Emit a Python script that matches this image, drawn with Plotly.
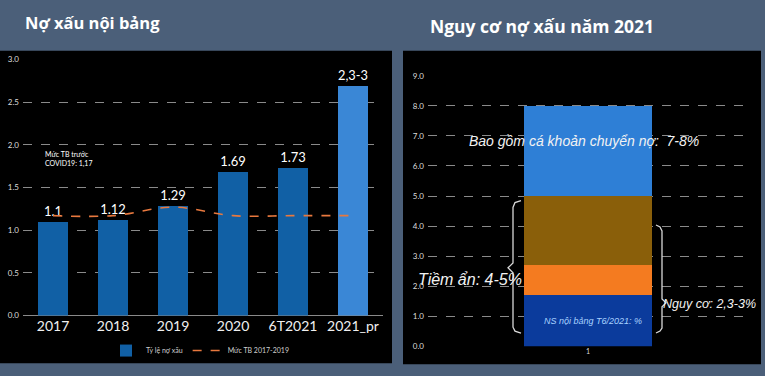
import plotly.graph_objects as go

W, H = 765, 376

# ---------- data ----------
years = ["2017", "2018", "2019", "2020", "6T2021", "2021_pr"]
npl_ratio = [1.1, 1.12, 1.29, 1.69, 1.73, 2.7]
npl_labels = ["1.1", "1.12", "1.29", "1.69", "1.73", "2,3-3"]
avg_line = [1.17, 1.17, 1.27, 1.17, 1.17, 1.17]

risk_cat = ["1"]
seg_names = ["NS nội bảng T6/2021", "Nguy cơ", "Tiềm ẩn", "Chuyển nợ"]
seg_values = [1.73, 0.97, 2.3, 3.0]

def X(px):
    return px / W

def Y(py):
    return 1 - py / H

BG = "#4b5f79"
DARK_BAR = "#1160a5"
LIGHT_BAR = "#3a87d6"
seg_colors = ["#0b3b9c", "#f47b20", "#8a5f0a", "#2e7fd6"]

fig = go.Figure()

bar_colors = [DARK_BAR] * 5 + [LIGHT_BAR]
fig.add_trace(go.Bar(
    x=years, y=npl_ratio, name="Tỷ lệ nợ xấu",
    marker=dict(color=bar_colors, line=dict(width=0)),
    width=0.49, text=npl_labels, textposition="outside",
    textfont=dict(family="Lato", size=13, color="#ffffff"),
    cliponaxis=False, xaxis="x", yaxis="y",
))
fig.add_trace(go.Scatter(
    x=years, y=avg_line, name="Mức TB 2017-2019", mode="lines",
    line=dict(color="#e8783e", width=1.6, dash="dash", shape="spline"),
    xaxis="x", yaxis="y",
))

for val, col, nm in zip(seg_values, seg_colors, seg_names):
    fig.add_trace(go.Bar(
        x=risk_cat, y=[val], name=nm, marker=dict(color=col, line=dict(width=0)),
        width=0.4, showlegend=False, xaxis="x2", yaxis="y2",
    ))

shapes = [
    dict(type="rect", xref="paper", yref="paper", x0=X(0), x1=X(392), y0=Y(368), y1=Y(47),
         fillcolor="#000000", line=dict(width=0), layer="below"),
    dict(type="rect", xref="paper", yref="paper", x0=X(403), x1=X(761), y0=Y(369), y1=Y(47),
         fillcolor="#000000", line=dict(width=0), layer="below"),
]

def brace_path(pts):
    return "M " + " L ".join(f"{X(a):.5f},{Y(b):.5f}" for a, b in pts)

left_brace = [(521, 201), (515, 203), (513, 208), (513, 265), (508, 270), (513, 275),
              (513, 331), (515, 335), (521, 337)]
right_brace = [(656, 226), (660, 228), (662, 232), (662, 302), (666, 306), (662, 310),
               (662, 332), (660, 335), (656, 337)]
for pts in (left_brace, right_brace):
    shapes.append(dict(type="path", xref="paper", yref="paper", path=brace_path(pts),
                       line=dict(color="#d8d8d8", width=1.3)))

annotations = [
    dict(text="<b>Nợ xấu nội bảng</b>", x=X(23), y=Y(18), xref="paper", yref="paper",
         xanchor="left", yanchor="middle", showarrow=False,
         font=dict(family="Open Sans", size=16.5, color="#ffffff")),
    dict(text="<b>Nguy cơ nợ xấu năm 2021</b>", x=X(428), y=Y(22), xref="paper", yref="paper",
         xanchor="left", yanchor="middle", showarrow=False,
         font=dict(family="Open Sans", size=17.5, color="#ffffff")),
    dict(text="Mức TB trước<br>COVID19: 1,17", x=X(43), y=Y(158), xref="paper", yref="paper",
         xanchor="left", yanchor="middle", align="left", showarrow=False,
         font=dict(family="Lato", size=7, color="#ffffff")),
    dict(text="<i>Bao gồm cá khoản chuyển nợ:  7-8%</i>", x=X(584), y=Y(140), xref="paper",
         yref="paper", xanchor="center", yanchor="middle", showarrow=False,
         font=dict(family="Liberation Sans", size=14, color="#f2f2f2")),
    dict(text="<i>Tiềm ẩn: 4-5%</i>", x=X(470), y=Y(282), xref="paper", yref="paper",
         xanchor="center", yanchor="middle", showarrow=False,
         font=dict(family="Liberation Sans", size=16, color="#f2f2f2")),
    dict(text="<i>Nguy cơ: 2,3-3%</i>", x=X(709), y=Y(307), xref="paper", yref="paper",
         xanchor="center", yanchor="middle", showarrow=False,
         font=dict(family="Liberation Sans", size=12.5, color="#f2f2f2")),
    dict(text="<i>NS nội bảng T6/2021: %</i>", x=X(593), y=Y(325), xref="paper", yref="paper",
         xanchor="center", yanchor="middle", showarrow=False,
         font=dict(family="Liberation Sans", size=9, color="#a8d2ff")),
]

fig.update_layout(
    width=W, height=H, margin=dict(l=0, r=0, t=0, b=0),
    paper_bgcolor=BG, plot_bgcolor="rgba(0,0,0,0)",
    barmode="stack", bargap=0,
    shapes=shapes, annotations=annotations,
    showlegend=True,
    legend=dict(orientation="h", x=X(200), xanchor="center", y=Y(355), yanchor="middle",
                font=dict(family="Lato", size=7, color="#cfcfcf"), bgcolor="rgba(0,0,0,0)",
                itemwidth=30, tracegroupgap=0, traceorder="normal"),
    xaxis=dict(domain=[X(23), X(383)], type="category", range=[-0.5, 5.5],
               showgrid=False, zeroline=False, showline=False, ticks="",
               tickfont=dict(family="Lato", size=14, color="#f0f0f0"), anchor="y"),
    yaxis=dict(domain=[Y(319), Y(56)], range=[0, 3.0], dtick=0.5, tickformat=".1f",
               showgrid=True, gridcolor="#8a8a8a", griddash="dash", gridwidth=1,
               zeroline=True, zerolinecolor="#8a8a8a", zerolinewidth=1,
               tickfont=dict(family="Lato", size=8, color="#dddddd"), anchor="x",
               ticklabelstandoff=3),
    xaxis2=dict(domain=[X(428), X(748)], type="category", range=[-0.5, 0.5],
                showgrid=False, zeroline=False, showline=False, ticks="",
                tickfont=dict(family="Lato", size=7, color="#dddddd"), anchor="y2"),
    yaxis2=dict(domain=[Y(350.7), Y(72.7)], range=[0, 9.0], dtick=1, tickformat=".1f",
                showgrid=True, gridcolor="#8a8a8a", griddash="dash", gridwidth=1,
                zeroline=False,
                tickfont=dict(family="Lato", size=8, color="#dddddd"), anchor="x2",
                ticklabelstandoff=3),
)

fig.write_html(
    "out.html",
    config={"displayModeBar": False},
    post_script="document.body.style.margin='0px';document.body.style.overflow='hidden';",
)
